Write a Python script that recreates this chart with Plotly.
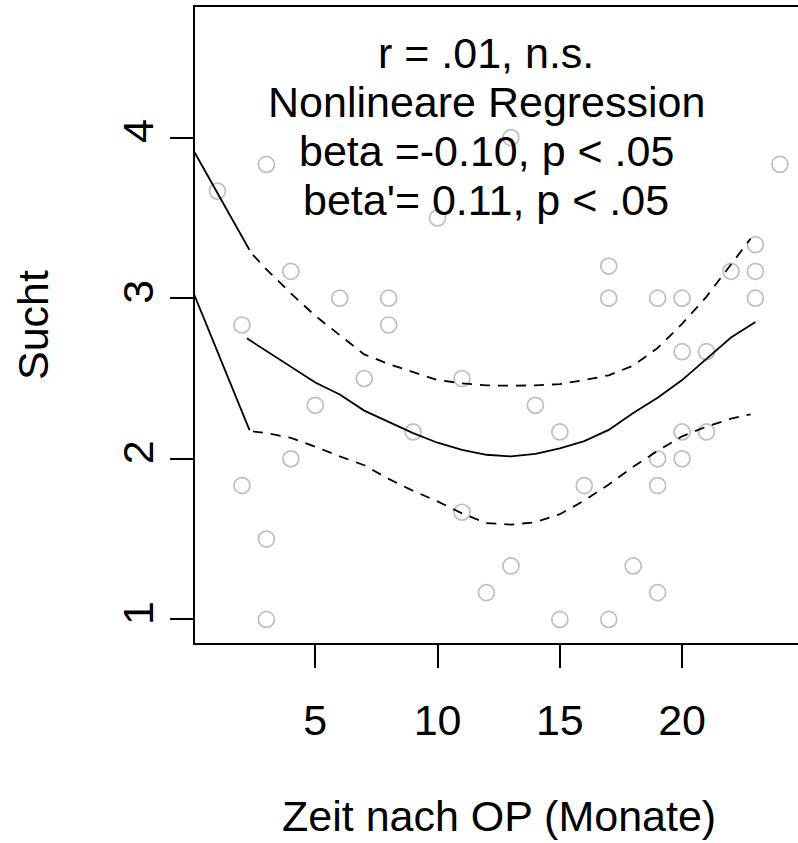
import plotly.graph_objects as go

# observed data
months = [1, 2, 2, 3, 3, 3, 4, 4, 5, 6, 7, 8, 8, 9, 10, 11, 11, 12, 13, 13, 14, 15, 15,
          16, 17, 17, 17, 18, 19, 19, 19, 19, 20, 20, 20, 20, 21, 21, 22, 23, 23, 23, 24]
sucht = [3.667, 2.833, 1.833, 3.833, 1.5, 1.0, 3.167, 2.0, 2.333, 3.0, 2.5, 3.0, 2.833,
         2.167, 3.5, 2.5, 1.667, 1.167, 4.0, 1.333, 2.333, 2.167, 1.0, 1.833, 3.2, 3.0,
         1.0, 1.333, 3.0, 2.0, 1.833, 1.167, 3.0, 2.667, 2.167, 2.0, 2.667, 2.167, 3.167,
         3.333, 3.167, 3.0, 3.833]

# fitted nonlinear regression curve
fit_x = [2.2, 3, 4, 5, 6, 7, 8, 9, 10, 11, 12, 13, 14, 15, 16, 17, 18, 19, 20, 21, 22, 23]
fit_y = [2.75, 2.67, 2.57, 2.475, 2.40, 2.30, 2.23, 2.16, 2.10, 2.055, 2.025, 2.015, 2.03,
         2.065, 2.11, 2.18, 2.285, 2.38, 2.49, 2.62, 2.755, 2.852]

# confidence band (dashed)
band_x = [2.45, 3, 4, 5, 6, 7, 8, 9, 10, 11, 12, 13, 14, 15, 16, 17, 18, 19, 20, 21, 22, 22.8]
upper_y = [3.27, 3.18, 3.03, 2.89, 2.77, 2.65, 2.59, 2.54, 2.49, 2.47, 2.457, 2.455, 2.457,
           2.465, 2.49, 2.52, 2.58, 2.69, 2.84, 3.01, 3.21, 3.37]
lower_y = [2.17, 2.16, 2.13, 2.075, 2.015, 1.96, 1.875, 1.80, 1.735, 1.66, 1.60, 1.59, 1.605,
           1.655, 1.74, 1.84, 1.95, 2.05, 2.14, 2.20, 2.25, 2.277]

# solid lead-in segments at the left edge
lead_x = [0, 2.31]
lead_upper_y = [3.925, 3.30]
lead_lower_y = [3.039, 2.179]

x_ticks = [5, 10, 15, 20]
y_ticks = [1, 2, 3, 4]
stat_lines = ["r = .01, n.s.", "Nonlineare Regression", "beta =-0.10, p < .05", "beta'= 0.11, p < .05"]
stat_pos = [0.928, 0.851, 0.774, 0.696]

FONT = "Liberation Sans, Arial, sans-serif"
FS = 43

fig = go.Figure()
fig.add_trace(go.Scatter(x=months, y=sucht, mode="markers",
                         marker=dict(symbol="circle-open", size=16, color="#BEBEBE",
                                     line=dict(width=1.7, color="#BEBEBE")),
                         showlegend=False, hoverinfo="skip"))
fig.add_trace(go.Scatter(x=fit_x, y=fit_y, mode="lines",
                         line=dict(color="black", width=1.8), showlegend=False))
fig.add_trace(go.Scatter(x=band_x, y=upper_y, mode="lines",
                         line=dict(color="black", width=1.8, dash="10px,8px"), showlegend=False))
fig.add_trace(go.Scatter(x=band_x, y=lower_y, mode="lines",
                         line=dict(color="black", width=1.8, dash="10px,8px"), showlegend=False))
fig.add_trace(go.Scatter(x=lead_x, y=lead_upper_y, mode="lines",
                         line=dict(color="black", width=1.8), showlegend=False))
fig.add_trace(go.Scatter(x=lead_x, y=lead_lower_y, mode="lines",
                         line=dict(color="black", width=1.8), showlegend=False))

for txt, yp in zip(stat_lines, stat_pos):
    fig.add_annotation(x=12, xref="x", y=yp, yref="paper", text=txt, showarrow=False,
                       xanchor="center", yanchor="middle",
                       font=dict(family=FONT, size=FS, color="black"))

fig.add_annotation(x=(499 - 195) / 603, xref="paper", y=-0.272, yref="paper",
                   text="Zeit nach OP (Monate)", showarrow=False,
                   xanchor="center", yanchor="middle",
                   font=dict(family=FONT, size=FS, color="black"))
fig.add_annotation(x=(33 - 195) / 603, xref="paper", y=0.5, yref="paper",
                   text="Sucht", showarrow=False, textangle=-90,
                   xanchor="center", yanchor="middle",
                   font=dict(family=FONT, size=FS, color="black"))

fig.update_layout(
    width=798, height=843,
    margin=dict(l=195, r=0, t=7, b=200),
    plot_bgcolor="white", paper_bgcolor="white",
    font=dict(family=FONT, size=FS, color="black"),
    xaxis=dict(range=[0.08, 24.74], tickvals=x_ticks, ticktext=[str(v) for v in x_ticks],
               showgrid=False, zeroline=False, showline=True, linecolor="black",
               linewidth=2, mirror=True, ticks="outside", ticklen=23, tickwidth=1.6,
               tickcolor="black", ticklabelstandoff=15, automargin=False,
               tickfont=dict(family=FONT, size=FS, color="black")),
    yaxis=dict(range=[0.853, 4.813], tickvals=y_ticks, ticktext=[str(v) for v in y_ticks],
               showgrid=False, zeroline=False, showline=True, linecolor="black",
               linewidth=2, mirror=False, ticks="outside", ticklen=23, tickwidth=1.6,
               tickcolor="black", tickangle=-90, ticklabelstandoff=0, automargin=False,
               tickfont=dict(family=FONT, size=FS, color="black")),
)

fig.write_html("out.html")
